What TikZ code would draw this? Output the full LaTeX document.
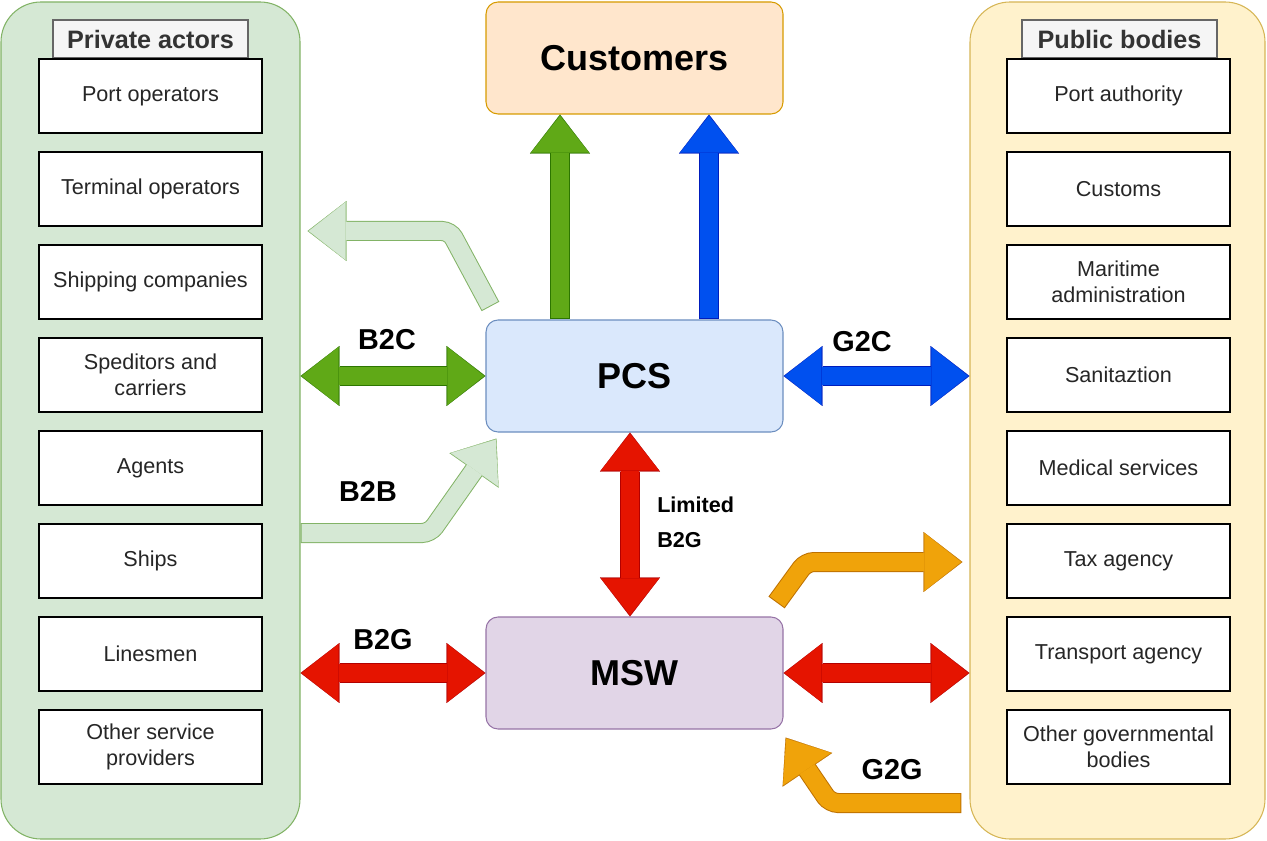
\documentclass[tikz,border=0pt]{standalone}
\usepackage{fontspec}
\setmainfont{Liberation Sans}
\usetikzlibrary{arrows.meta, calc}
\definecolor{privfill}{HTML}{D5E8D4}
\definecolor{privline}{HTML}{82B366}
\definecolor{pubfill}{HTML}{FFF2CC}
\definecolor{publine}{HTML}{D6B656}
\definecolor{tabfill}{HTML}{F5F5F5}
\definecolor{tabline}{HTML}{666666}
\definecolor{custfill}{HTML}{FFE6CC}
\definecolor{custline}{HTML}{D79B00}
\definecolor{pcsfill}{HTML}{DAE8FC}
\definecolor{pcsline}{HTML}{6C8EBF}
\definecolor{mswfill}{HTML}{E1D5E7}
\definecolor{mswline}{HTML}{9673A6}
\definecolor{grn}{HTML}{60A917}
\definecolor{dgrn}{HTML}{2D7600}
\definecolor{blu}{HTML}{0050EF}
\definecolor{dblu}{HTML}{001DBC}
\definecolor{rd}{HTML}{E51400}
\definecolor{drd}{HTML}{B20000}
\definecolor{org}{HTML}{F0A30A}
\definecolor{dorg}{HTML}{BD7000}
% fat arrow: fill, border, tips, path
\newcommand*{\fat}[4]{%
  \draw[fatout=#2, #3] #4;
  \draw[fatin=#1, #3] #4;}

\begin{document}
\begin{tikzpicture}[
   x=0.75pt, y=-0.75pt,
   group/.style={rectangle, rounded corners=30pt, line width=0.8pt,
                 minimum width=224.25pt, minimum height=627.75pt},
   tab/.style={rectangle, draw=tabline, fill=tabfill, line width=0.8pt, inner sep=0pt,
               minimum width=146.25pt, minimum height=28.5pt, text=black!80,
               font=\bfseries\fontsize{18.9}{22}\selectfont},
   box/.style={rectangle, draw=black, fill=white, line width=1.2pt, align=center,
               minimum width=167.25pt, minimum height=55.5pt, text=black!85,
               font=\fontsize{16.2}{19.5}\selectfont},
   hub/.style={rectangle, rounded corners=9pt, line width=0.8pt,
               minimum width=222.75pt, minimum height=84pt,
               font=\bfseries\fontsize{27}{32}\selectfont},
   lbl/.style={font=\bfseries\fontsize{21.6}{26}\selectfont},
   fatout/.style={draw=#1, line width=15pt, rounded corners=6pt,
                  >={Triangle[length=29.25pt, width=45pt, line width=0.1pt]}},
   fatin/.style={draw=#1, line width=13.5pt, rounded corners=6pt,
                 shorten >=0.9pt, shorten <=0.75pt,
                 >={Triangle[length=27.75pt, width=43.5pt, line width=0.1pt]}}
  ]
  \useasboundingbox (0, 0) rectangle (1267, 841);

  % Groups
  \node[group, draw=privline, fill=privfill] (priv) at (150.5, 420.5) {};
  \node[group, draw=publine, fill=pubfill, minimum width=221.25pt] (pub) at (1117.5, 420.5) {};
  \node[tab] (privtab) at (150.5, 39) {Private actors};
  \node[tab] (pubtab) at (1119.5, 39) {Public bodies};

  \foreach \t [count=\i] in {Port operators, Terminal operators, Shipping companies,
      Speditors and\\carriers, Agents, Ships, Linesmen, Other service\\providers} {
    \node[box] (priv\i) at (150.5, 3 + 93 * \i) {\t};
  }
  \foreach \t [count=\i] in {Port authority, Customs, Maritime\\administration,
      Sanitaztion, Medical services, Tax agency, Transport agency,
      Other governmental\\bodies} {
    \node[box] (pub\i) at (1118.5, 3 + 93 * \i) {\t};
  }

  % Systems
  \node[hub, draw=custline, fill=custfill] (cust) at (634.5, 58) {Customers};
  \node[hub, draw=pcsline, fill=pcsfill] (pcs) at (634.5, 376) {PCS};
  \node[hub, draw=mswline, fill=mswfill] (msw) at (634.5, 673) {MSW};

  % Arrows
  \coordinate (xg) at (560, 0);
  \coordinate (xb) at (709, 0);
  \coordinate (xl) at (630, 0);
  \coordinate (lgbend) at (450, 231);
  \coordinate (bbend) at (430, 533);
  \coordinate (tbend) at (806, 562);
  \coordinate (ggbend) at (830, 803);

  \fat{grn}{dgrn}{->}{(pcs.north -| xg) -- (cust.south -| xg)}
  \fat{blu}{dblu}{->}{(pcs.north -| xb) -- (cust.south -| xb)}
  \fat{grn}{dgrn}{<->}{(priv.east |- pcs.west) -- (pcs.west)}
  \fat{blu}{dblu}{<->}{(pcs.east) -- (pub.west |- pcs.east)}
  \fat{rd}{drd}{<->}{(pcs.south -| xl) -- (msw.north -| xl)}
  \fat{rd}{drd}{<->}{(priv.east |- msw.west) -- (msw.west)}
  \fat{rd}{drd}{<->}{(msw.east) -- (pub.west |- msw.east)}
  \fat{privfill}{privline}{->}{($(pcs.north west)+(5,-13)$) -- (lgbend) -- ($(priv.east |- lgbend)+(7,0)$)}
  \fat{privfill}{privline}{->}{(priv.east |- bbend) -- (bbend) -- ($(pcs.south west)+(11,6)$)}
  \fat{org}{dorg}{->}{($(msw.north east)+(-7,-14)$) -- (tbend) -- ($(pub.west |- tbend)+(-7,0)$)}
  \fat{org}{dorg}{->}{($(pub.west |- ggbend)+(-8,0)$) -- (ggbend) -- ($(msw.south east)+(2,8)$)}

  \node[lbl] (b2c) at (387, 340) {B2C};
  \node[lbl] (g2c) at (862, 342) {G2C};
  \node[lbl] (b2b) at (368, 491) {B2B};
  \node[lbl] (b2g) at (383, 640) {B2G};
  \node[lbl] (g2g) at (892, 770) {G2G};
  \node[font=\bfseries\fontsize{16.2}{26}\selectfont, align=left, anchor=west, inner sep=0pt]
    (limb2g) at (657, 522) {Limited\\B2G};

\end{tikzpicture}
\end{document}
